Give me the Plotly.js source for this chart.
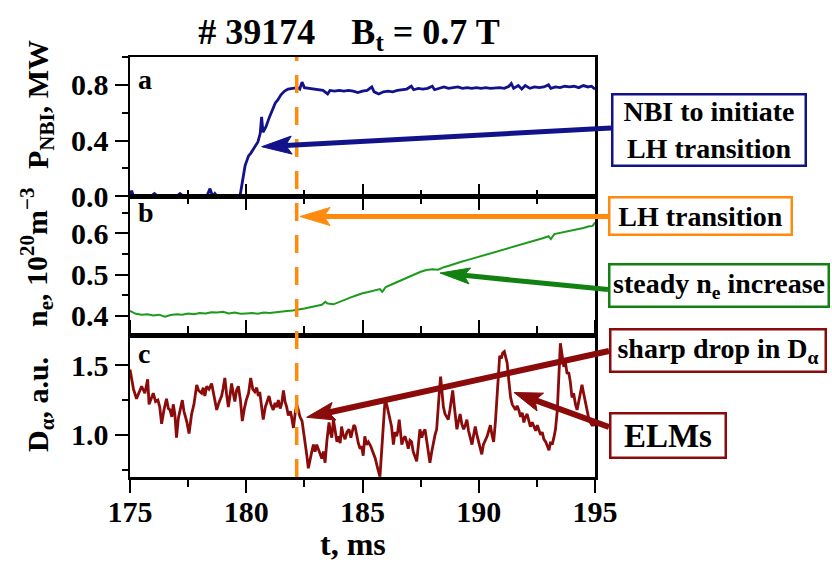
<!DOCTYPE html>
<html><head><meta charset="utf-8">
<script src="https://cdn.plot.ly/plotly-3.0.1.min.js"></script>
<style>html,body{margin:0;padding:0;background:#fff}#chart{width:832px;height:565px}</style>
</head><body><div id="chart"></div>
<script>
// ---------- data ----------
const tP = [175.0,175.07,175.15,175.5,175.9,176.05,176.2,177.0,177.15,177.3,178.3,178.44,178.55,178.65,178.75,179.73,179.85,179.95,180.1,180.2,180.35,180.5,180.6,180.66,180.72,180.85,181.0,181.1,181.2,181.25,181.35,181.5,181.65,181.8,182.0,182.2,182.3,182.4,182.5,182.7,182.9,183.1,183.3,183.5,183.6,183.8,184.0,184.2,184.4,184.6,184.8,185.0,185.2,185.4,185.5,185.7,185.9,186.1,186.3,186.5,186.7,186.9,187.1,187.2,187.4,187.6,187.8,188.0,188.1,188.3,188.5,188.7,188.9,189.1,189.3,189.5,189.7,189.9,190.1,190.3,190.5,190.7,190.9,191.1,191.3,191.4,191.5,191.7,191.85,192.0,192.2,192.4,192.6,192.8,193.0,193.1,193.3,193.5,193.7,193.9,194.1,194.3,194.5,194.7,194.85,195.0];
const pNBI = [0.0,0.04,0.0,0.0,0.0,0.02,0.0,0.0,0.02,0.0,0.0,0.055,0.0,0.02,0.0,0.0,0.13,0.22,0.29,0.31,0.35,0.39,0.45,0.57,0.46,0.50,0.57,0.61,0.64,0.67,0.69,0.73,0.755,0.77,0.775,0.78,0.77,0.82,0.78,0.775,0.77,0.765,0.76,0.735,0.76,0.755,0.76,0.755,0.76,0.755,0.745,0.755,0.76,0.785,0.75,0.735,0.75,0.755,0.75,0.76,0.765,0.77,0.79,0.765,0.775,0.77,0.775,0.79,0.765,0.775,0.785,0.775,0.78,0.785,0.775,0.78,0.775,0.78,0.775,0.78,0.775,0.78,0.78,0.775,0.79,0.81,0.775,0.795,0.77,0.795,0.775,0.785,0.78,0.785,0.80,0.775,0.785,0.78,0.79,0.785,0.79,0.78,0.795,0.785,0.79,0.77];

const tN = [175.0,175.25,175.5,175.75,176.0,176.25,176.5,176.75,177.0,177.25,177.5,177.75,178.0,178.25,178.5,178.75,179.0,179.25,179.5,179.75,180.0,180.25,180.5,180.75,181.0,181.25,181.5,181.75,182.0,182.25,182.5,182.75,183.0,183.25,183.4,183.5,183.75,184.0,184.25,184.5,184.75,185.0,185.25,185.5,185.75,185.85,186.0,186.25,186.5,186.75,187.0,187.25,187.5,187.75,188.0,188.25,188.5,188.75,189.0,189.25,189.5,189.75,190.0,190.25,190.5,190.75,191.0,191.25,191.5,191.75,192.0,192.25,192.5,192.75,193.0,193.1,193.25,193.5,193.75,194.0,194.25,194.5,194.75,194.9,195.0];
const nE = [0.412,0.405,0.403,0.404,0.401,0.403,0.398,0.402,0.404,0.403,0.406,0.404,0.407,0.406,0.409,0.408,0.410,0.406,0.408,0.405,0.406,0.407,0.405,0.408,0.407,0.409,0.410,0.412,0.413,0.415,0.418,0.421,0.424,0.427,0.434,0.430,0.428,0.434,0.440,0.445,0.450,0.455,0.458,0.462,0.465,0.458,0.470,0.476,0.482,0.489,0.495,0.501,0.507,0.511,0.513,0.512,0.518,0.522,0.527,0.531,0.535,0.539,0.543,0.547,0.552,0.556,0.560,0.563,0.567,0.571,0.575,0.579,0.583,0.588,0.593,0.586,0.598,0.601,0.603,0.607,0.610,0.613,0.617,0.618,0.626];

const tD = [175.00,175.15,175.28,175.40,175.50,175.64,175.76,175.82,175.92,176.00,176.10,176.20,176.28,176.36,176.46,176.57,176.65,176.72,176.80,176.86,176.93,177.00,177.08,177.15,177.25,177.32,177.37,177.45,177.54,177.60,177.65,177.75,177.87,177.95,178.08,178.15,178.22,178.30,178.40,178.51,178.60,178.66,178.73,178.82,178.94,179.00,179.08,179.15,179.23,179.30,179.37,179.44,179.51,179.58,179.66,179.75,179.83,179.92,180.00,180.10,180.19,180.28,180.37,180.45,180.52,180.58,180.65,180.73,180.82,180.90,180.98,181.06,181.16,181.24,181.31,181.38,181.46,181.53,181.60,181.67,181.74,181.81,181.90,181.96,182.03,182.10,182.17,182.24,182.31,182.40,182.47,182.53,182.60,182.67,182.75,182.82,182.89,182.96,183.03,183.10,183.18,183.25,183.32,183.39,183.47,183.56,183.62,183.68,183.75,183.82,183.90,183.97,184.04,184.10,184.17,184.25,184.33,184.42,184.50,184.57,184.63,184.68,184.75,184.82,184.90,184.96,185.03,185.10,185.17,185.25,185.35,185.47,185.55,185.65,185.75,185.85,185.92,185.97,186.04,186.10,186.18,186.25,186.33,186.40,186.47,186.52,186.58,186.63,186.69,186.76,186.83,186.90,186.97,187.04,187.11,187.18,187.25,187.33,187.40,187.47,187.55,187.62,187.69,187.76,187.83,187.90,187.98,188.05,188.12,188.19,188.26,188.30,188.36,188.42,188.48,188.55,188.62,188.69,188.76,188.82,188.88,188.94,189.00,189.06,189.13,189.20,189.27,189.35,189.42,189.49,189.56,189.63,189.71,189.78,189.85,189.92,190.00,190.07,190.13,190.20,190.28,190.36,190.43,190.50,190.57,190.64,190.72,190.79,190.85,190.90,190.97,191.03,191.10,191.16,191.22,191.30,191.37,191.44,191.51,191.58,191.65,191.72,191.80,191.87,191.94,192.01,192.08,192.15,192.22,192.30,192.37,192.45,192.52,192.59,192.66,192.73,192.80,192.88,192.95,193.02,193.09,193.16,193.23,193.30,193.38,193.45,193.51,193.58,193.66,193.73,193.80,193.87,193.94,194.01,194.08,194.16,194.23,194.30,194.37,194.44,194.51,194.58,194.66,194.73,194.80,194.87,194.94,195.00];
const dAlpha = [1.47,1.33,1.26,1.31,1.35,1.30,1.40,1.22,1.27,1.30,1.24,1.25,1.20,1.08,1.18,1.26,1.19,1.18,1.13,1.22,1.15,0.98,1.12,1.18,1.25,1.17,1.14,1.09,1.01,1.10,1.15,1.22,1.36,1.32,1.30,1.34,1.28,1.35,1.33,1.37,1.30,1.23,1.18,1.23,1.28,1.33,1.41,1.30,1.20,1.28,1.37,1.30,1.24,1.32,1.35,1.25,1.10,1.19,1.25,1.30,1.41,1.33,1.31,1.34,1.28,1.31,1.22,1.11,1.20,1.25,1.28,1.22,1.18,1.23,1.20,1.25,1.19,1.23,1.32,1.24,1.20,1.14,1.17,1.12,1.05,1.15,1.22,1.18,1.13,1.10,1.02,0.96,0.86,0.76,0.84,0.88,0.93,0.88,0.93,0.90,0.86,0.83,0.88,0.80,0.96,1.09,1.02,0.98,1.11,1.03,0.95,0.99,0.94,1.06,1.00,0.97,1.02,1.04,0.98,1.03,1.07,1.06,1.00,0.94,0.90,0.92,0.85,0.99,0.93,0.95,0.92,0.87,0.83,0.76,0.70,0.95,1.18,1.25,1.22,1.18,1.11,1.06,0.93,1.02,0.99,1.03,1.11,1.02,0.93,0.97,0.99,0.95,0.90,0.96,0.95,0.88,0.84,0.81,0.92,1.04,0.98,1.02,1.04,0.96,0.86,0.80,0.88,0.95,1.00,1.04,1.17,1.30,1.42,1.31,1.20,1.15,1.13,1.11,1.18,1.26,1.32,1.22,1.10,1.04,1.10,1.15,1.08,1.04,1.07,1.11,1.03,0.99,0.93,1.00,1.06,1.00,0.95,0.90,0.86,0.93,0.96,0.99,1.03,1.07,1.00,0.95,1.10,1.27,1.48,1.57,1.55,1.59,1.60,1.56,1.52,1.38,1.27,1.22,1.20,1.18,1.21,1.18,1.13,1.16,1.09,1.13,1.15,1.10,1.06,1.09,1.06,1.03,1.07,1.04,1.00,1.02,0.97,0.95,0.92,0.89,0.95,0.93,0.98,1.04,1.18,1.40,1.66,1.58,1.49,1.52,1.44,1.45,1.38,1.27,1.30,1.22,1.18,1.24,1.30,1.36,1.30,1.24,1.18,1.12,1.09,1.07,1.07,1.08];

const tLH = 182.17;           // LH transition time, ms
const xTickVals = [175, 180, 185, 190, 195];

// ---------- styling ----------
const FONT = '"Liberation Serif", "Times New Roman", serif';
const NAVY = '#12128a', ORANGE = '#ff8a0d', GREEN = '#1c9a1c', GREEN_D = '#118211', RED = '#8b0a0a';
const L = 130, R = 595, T = 57, B = 477;          // plot area in px
const PX = px => (px - L) / (R - L);
const PY = py => (B - py) / (B - T);

const tickFont = {family: FONT, size: 30, color: '#000', weight: 'bold'};

function xAxis(anchor, opts) {
  return Object.assign({
    anchor, domain: [0, 1], range: [175, 195], tickvals: xTickVals,
    showline: true, linecolor: '#000', linewidth: 2.5, zeroline: false, showgrid: false,
    ticklen: 13, tickwidth: 2, tickcolor: '#000',
    tickfont: tickFont, showticklabels: false
  }, opts);
}
function minorX(dir) {
  return {ticks: dir, dtick: 2.5, tick0: 175, ticklen: 7, tickwidth: 2, tickcolor: '#000', showgrid: false};
}
function yAxis(anchor, domain, range, dtick, minorDtick, tick0) {
  return {
    anchor, domain, range, dtick, tick0, tickformat: '.1f',
    showline: true, linecolor: '#000', linewidth: 2.5, mirror: true, zeroline: false, showgrid: false,
    ticks: 'outside', ticklen: 13, tickwidth: 2, tickcolor: '#000',
    minor: {ticks: 'outside', dtick: minorDtick, tick0, ticklen: 6, tickwidth: 2, tickcolor: '#000', showgrid: false},
    tickfont: tickFont
  };
}

const traces = [
  {x: tP, y: pNBI, xaxis: 'x', yaxis: 'y', mode: 'lines', line: {color: NAVY, width: 2.8}, name: 'P_NBI'},
  {x: tN, y: nE, xaxis: 'x2', yaxis: 'y2', mode: 'lines', line: {color: GREEN, width: 2}, name: 'n_e'},
  {x: tD, y: dAlpha, xaxis: 'x3', yaxis: 'y3', mode: 'lines', line: {color: RED, width: 2.8}, name: 'D_alpha'}
];

function arrow(tail, tip, color, lw, hl, hw) {
  const dx = tip[0] - tail[0], dy = tip[1] - tail[1];
  const len = Math.hypot(dx, dy), ux = dx / len, uy = dy / len, nx = -uy, ny = ux;
  const bx = tip[0] - hl * ux, by = tip[1] - hl * uy;
  const kx = tip[0] - 0.8 * hl * ux, ky = tip[1] - 0.8 * hl * uy;
  return [
    {type: 'line', xref: 'paper', yref: 'paper', x0: PX(tail[0]), y0: PY(tail[1]), x1: PX(kx), y1: PY(ky),
     line: {color, width: lw}},
    {type: 'path', xref: 'paper', yref: 'paper',
     path: `M${PX(tip[0])},${PY(tip[1])} L${PX(bx + hw * nx)},${PY(by + hw * ny)} L${PX(kx)},${PY(ky)} L${PX(bx - hw * nx)},${PY(by - hw * ny)} Z`,
     fillcolor: color, line: {color, width: 1}}
  ];
}
function box(text, cx, cy, w, h, color, size) {
  return {xref: 'paper', yref: 'paper', x: PX(cx), y: PY(cy), xanchor: 'center', yanchor: 'middle',
    text, showarrow: false, bgcolor: '#fff', bordercolor: color, borderwidth: 2.5, borderpad: 0,
    width: w - 5, height: h - 5, align: 'center', valign: 'middle',
    font: {family: FONT, size, color: '#000', weight: 'bold'}};
}
function label(text, px, py, size, opts) {
  return Object.assign({xref: 'paper', yref: 'paper', x: PX(px), y: PY(py), text, showarrow: false,
    font: {family: FONT, size, color: '#000', weight: 'bold'}}, opts || {});
}

const shapes = [
  {type: 'line', xref: 'x3', yref: 'paper', x0: tLH, x1: tLH, y0: 0, y1: 1,
   line: {color: ORANGE, width: 3.5, dash: '18px,14px'}},
  ...arrow([611, 128], [261.7, 146.7], NAVY, 5, 30, 9),
  ...arrow([608, 216.5], [300, 216.5], ORANGE, 5, 30, 9),
  ...arrow([608, 289.5], [440, 273], GREEN_D, 5, 30, 8),
  ...arrow([609, 351], [306.7, 417.3], RED, 6, 28, 9),
  ...arrow([609, 427], [514, 392.5], RED, 6, 28, 9.5)
];

const rot = {textangle: -90, xanchor: 'center', yanchor: 'middle'};
const annotations = [
  box('NBI to initiate<br>LH transition', 708.7, 130.3, 196, 74, NAVY, 28),
  box('LH transition', 700.5, 216.3, 185, 40, ORANGE, 28),
  box('steady n<sub>e</sub> increase', 719, 285.8, 222, 45, GREEN_D, 28),
  box('sharp drop in D<sub>α</sub>', 717.8, 350.5, 218, 45, RED, 28),
  box('ELMs', 667.8, 435, 118, 47, RED, 33),
  label('a', 136, 79, 28, {xanchor: 'left', yanchor: 'middle'}),
  label('b', 136, 212, 28, {xanchor: 'left', yanchor: 'middle'}),
  label('c', 136, 354, 28, {xanchor: 'left', yanchor: 'middle'}),
  label('P<sub>NBI</sub>, MW', 40, 105, 30, rot),
  label('n<sub>e</sub>, 10<sup>20</sup>m<sup>−3</sup>', 36, 258, 30, rot),
  label('D<sub>α</sub>, a.u.', 40, 405, 30, rot),
  label('t, ms', 353, 564, 32, {xanchor: 'center', yanchor: 'bottom'})
];

const layout = {
  width: 832, height: 565, paper_bgcolor: '#fff', plot_bgcolor: '#fff', showlegend: false,
  margin: {l: L, r: 832 - R, t: T, b: 565 - B, pad: 0},
  font: {family: FONT, color: '#000'},
  title: {text: '# 39174\u00a0\u00a0\u00a0\u00a0B<sub>t</sub> = 0.7 T', x: 349 / 832, xref: 'container', xanchor: 'center',
          y: 1 - 31 / 565, yanchor: 'middle', font: {family: FONT, size: 36, color: '#000', weight: 'bold'}},
  xaxis: xAxis('y', {ticks: 'inside', mirror: true, matches: 'x3', minor: minorX('inside')}),
  xaxis2: xAxis('y2', {ticks: 'inside', mirror: 'ticks', matches: 'x3', minor: minorX('inside')}),
  xaxis3: xAxis('y3', {ticks: 'outside', mirror: 'ticks', showticklabels: true, ticklabelstandoff: -7, minor: minorX('outside')}),
  yaxis: yAxis('x', [0.6667, 1], [-0.005, 1.0], 0.4, 0.2, 0),
  yaxis2: yAxis('x2', [0.3364, 0.6667], [0.352, 0.688], 0.1, 0.05, 0.4),
  yaxis3: yAxis('x3', [0, 0.3364], [0.697, 1.714], 0.5, 0.25, 1.0),
  shapes, annotations
};

Plotly.newPlot('chart', traces, layout, {staticPlot: true, displayModeBar: false});
</script></body></html>
